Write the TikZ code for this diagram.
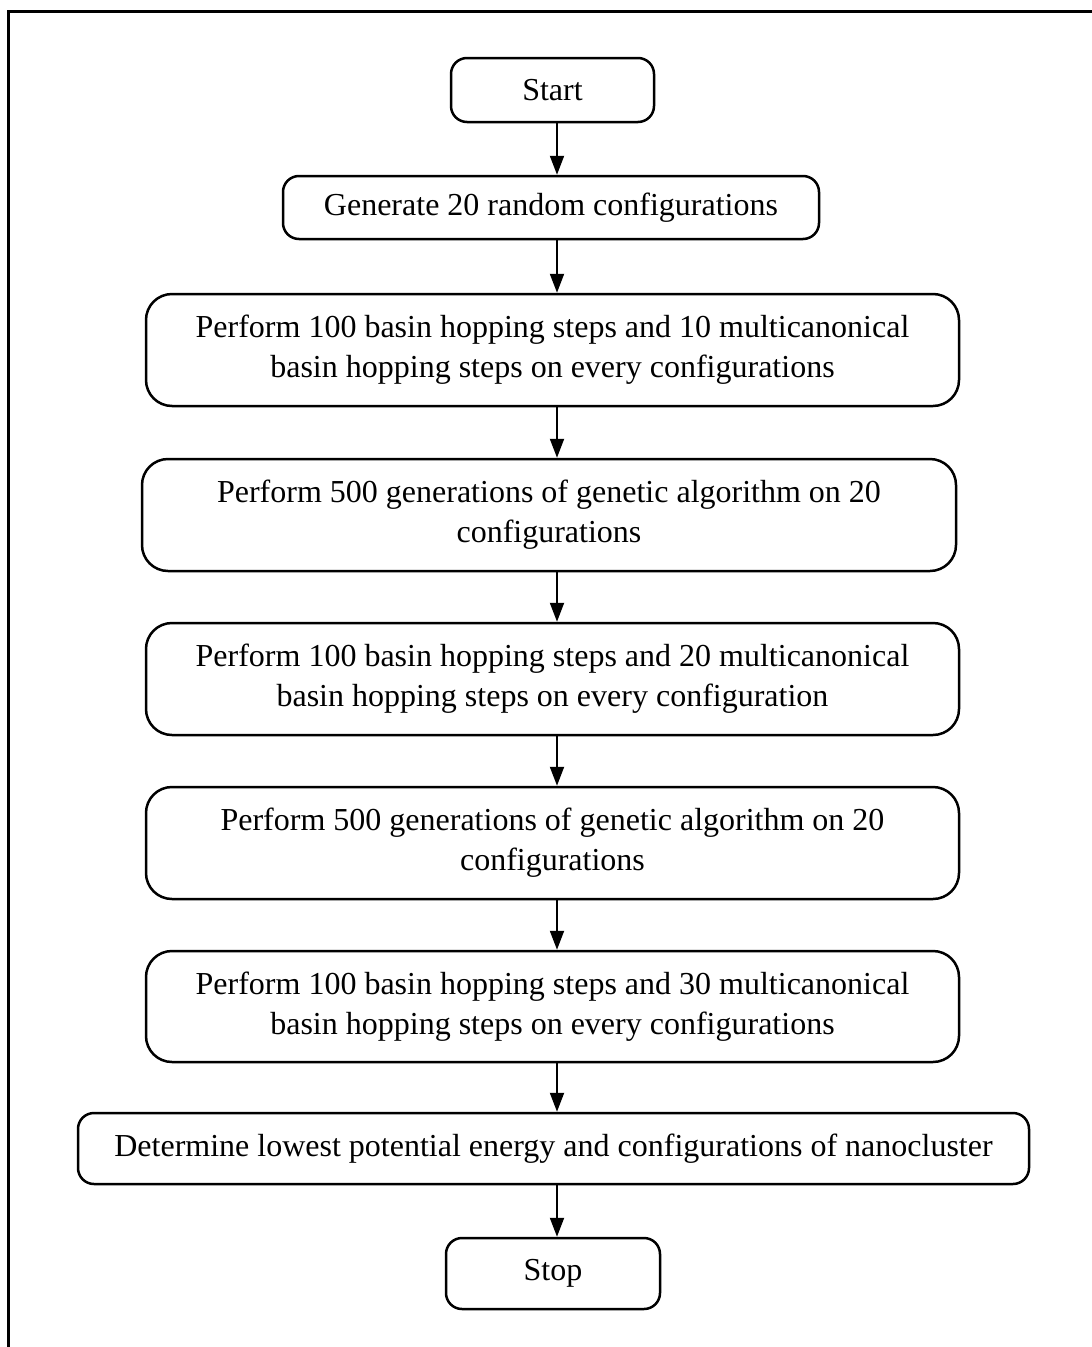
\documentclass[tikz,border=0pt]{standalone}
\usepackage{fontspec}
\setmainfont{Liberation Serif}
\usetikzlibrary{arrows.meta}
\begin{document}
\begin{tikzpicture}[x=1pt,y=-1pt,
  box/.style={draw, line width=2.5pt, rounded corners=#1, inner sep=0pt, align=center,
    font=\fontsize{32}{40}\selectfont},
  box/.default=16pt,
  arr/.style={line width=2pt, -{Triangle[length=19pt,width=14pt]}},
  frame/.style={line width=3pt}]
\useasboundingbox (0,0) rectangle (1092,1347);
\draw[frame] (8,1347) -- (8,11) -- (1092,11);
\coordinate (ax) at (557,0);
\node[box, minimum width=203pt, minimum height=64pt] (start) at (552.5,90) {Start};
\node[box, minimum width=536pt, minimum height=63pt] (gen) at (551,207.5) {Generate 20 random configurations};
\node[box=26pt, minimum width=813pt, minimum height=112pt] (b3) at (552.5,350) {Perform 100 basin hopping steps and 10 multicanonical\\basin hopping steps on every configurations};
\node[box=26pt, minimum width=814pt, minimum height=112pt] (b4) at (549,515) {Perform 500 generations of genetic algorithm on 20\\configurations};
\node[box=26pt, minimum width=813pt, minimum height=112pt] (b5) at (552.5,679) {Perform 100 basin hopping steps and 20 multicanonical\\basin hopping steps on every configuration};
\node[box=26pt, minimum width=813pt, minimum height=112pt] (b6) at (552.5,843) {Perform 500 generations of genetic algorithm on 20\\configurations};
\node[box=26pt, minimum width=813pt, minimum height=111pt] (b7) at (552.5,1006.5) {Perform 100 basin hopping steps and 30 multicanonical\\basin hopping steps on every configurations};
\node[box, minimum width=951pt, minimum height=71pt] (b8) at (553.5,1148.5) {Determine lowest potential energy and configurations of nanocluster};
\node[box, minimum width=214pt, minimum height=71pt] (stop) at (553,1273.5) {Stop};
\draw[arr] (start.south -| ax) -- (gen.north -| ax);
\draw[arr] (gen.south -| ax) -- (b3.north -| ax);
\draw[arr] (b3.south -| ax) -- (b4.north -| ax);
\draw[arr] (b4.south -| ax) -- (b5.north -| ax);
\draw[arr] (b5.south -| ax) -- (b6.north -| ax);
\draw[arr] (b6.south -| ax) -- (b7.north -| ax);
\draw[arr] (b7.south -| ax) -- (b8.north -| ax);
\draw[arr] (b8.south -| ax) -- (stop.north -| ax);
\end{tikzpicture}
\end{document}
